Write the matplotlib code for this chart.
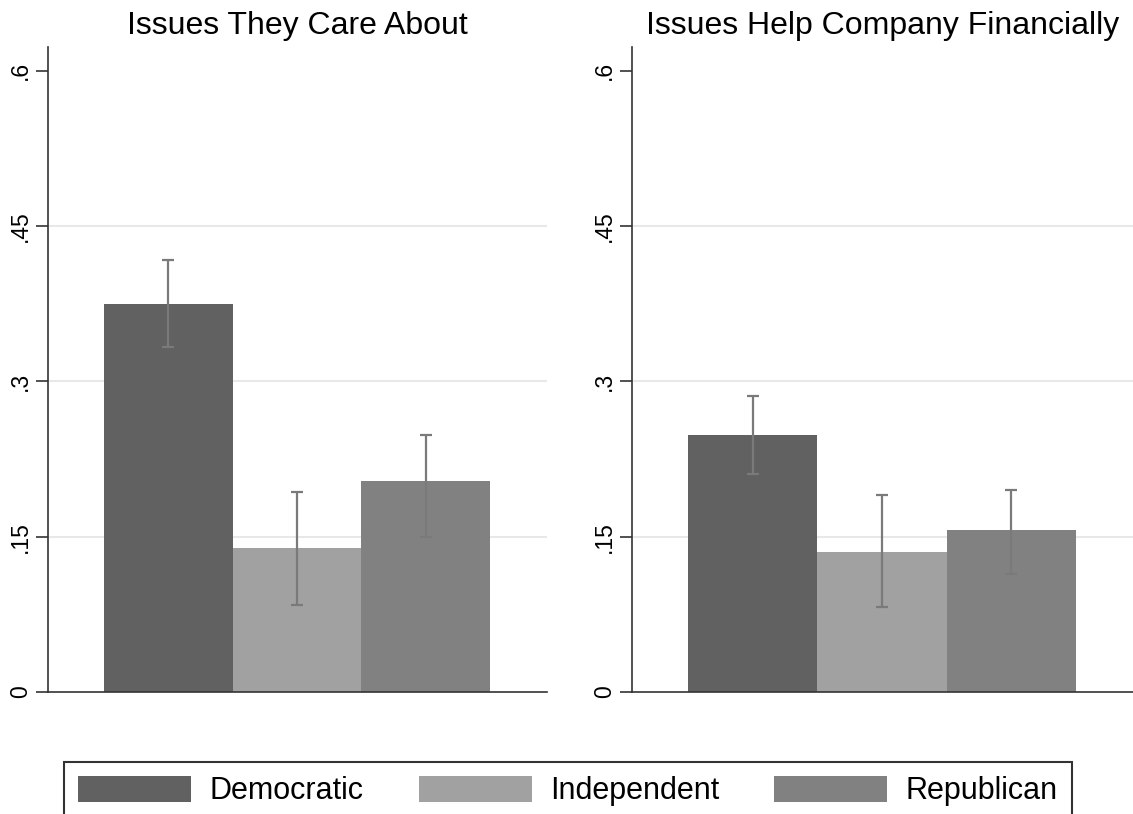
import matplotlib
matplotlib.use("Agg")
import matplotlib.pyplot as plt
from matplotlib.patches import Patch

plt.rcParams["font.family"] = ["Liberation Sans", "DejaVu Sans"]

# Data
titles = ["Issues They Care About", "Issues Help Company Financially"]
parties = ["Democratic", "Independent", "Republican"]
colors = ["#616161", "#a1a1a1", "#818181"]

care_mean = [0.375, 0.139, 0.204]
care_lo = [0.333, 0.084, 0.150]
care_hi = [0.417, 0.193, 0.248]

fin_mean = [0.248, 0.135, 0.156]
fin_lo = [0.211, 0.082, 0.114]
fin_hi = [0.286, 0.190, 0.195]

yticks = [0, 0.15, 0.3, 0.45, 0.6]
ytick_labels = ["0", ".15", ".3", ".45", ".6"]

fig = plt.figure(figsize=(11.33, 8.14), dpi=100)
ax_pos = [[0.0424, 0.1499, 0.4404, 0.7924], [0.5578, 0.1499, 0.4422, 0.7924]]

panels = [(care_mean, care_lo, care_hi), (fin_mean, fin_lo, fin_hi)]
for i, (mean, lo, hi) in enumerate(panels):
    ax = fig.add_axes(ax_pos[i])
    x = range(len(parties))
    ax.bar(x, mean, width=1.0, color=colors, zorder=2)
    yerr = [[m - l for m, l in zip(mean, lo)], [h - m for m, h in zip(mean, hi)]]
    ax.errorbar(x, mean, yerr=yerr, fmt="none", ecolor="#7a7a7a",
                elinewidth=1.6, capsize=4.3, capthick=1.6, zorder=3)
    for g in [0.15, 0.3, 0.45]:
        ax.axhline(g, color="#e8e8e8", lw=1.5, zorder=1)
    ax.set_xlim(-0.935, 2.943)
    ax.set_ylim(0, 0.623)
    ax.set_yticks(yticks)
    ax.set_yticklabels(ytick_labels, rotation=90, va="center", fontsize=16.5)
    ax.tick_params(axis="y", length=9, width=1.2, color="#333333", pad=2.5)
    ax.set_xticks([])
    for s in ["top", "right"]:
        ax.spines[s].set_visible(False)
    ax.spines["left"].set_color("#333333")
    ax.spines["bottom"].set_color("#333333")
    ax.spines["left"].set_linewidth(1.2)
    ax.spines["bottom"].set_linewidth(1.2)
    ax.set_title(titles[i], fontsize=23, pad=9)

handles = [Patch(facecolor=c, edgecolor="none") for c in colors]
leg = fig.legend(handles, parties, loc="upper center", ncol=3,
                 bbox_to_anchor=(568 / 1133, 1 - 762 / 814), fontsize=22,
                 frameon=True, fancybox=False, edgecolor="black",
                 handlelength=3.7, handleheight=0.93, handletextpad=0.6,
                 columnspacing=1.8, borderpad=0.45, borderaxespad=0)
leg.get_frame().set_linewidth(1.5)

fig.savefig("out.png", dpi=100)
